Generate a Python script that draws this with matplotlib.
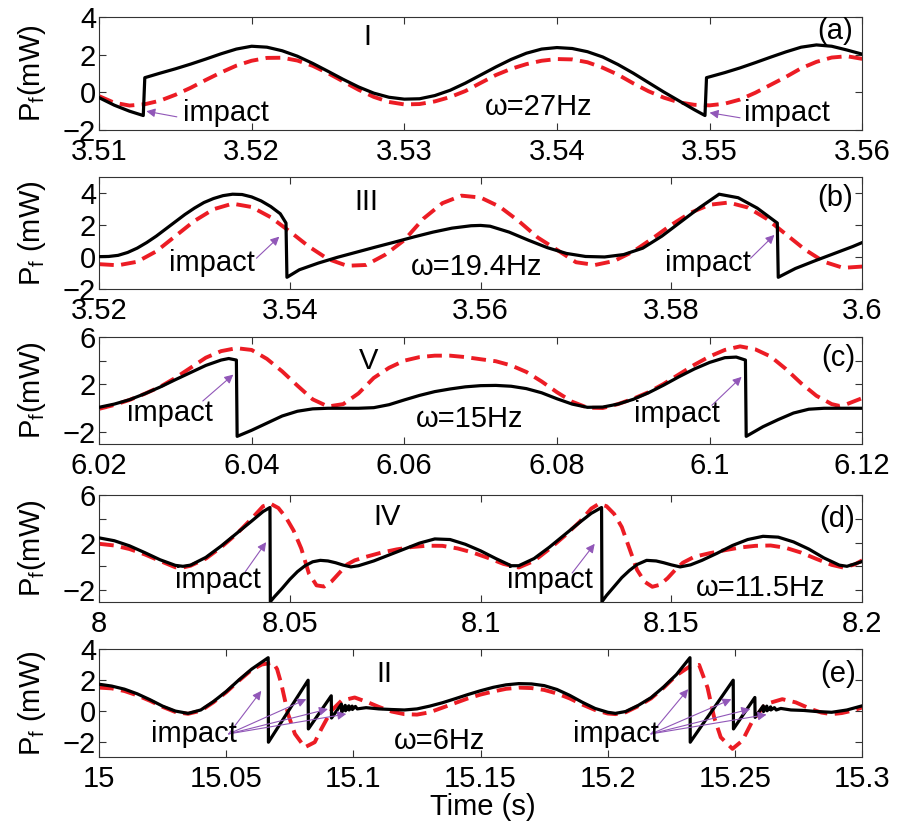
import numpy as np
import matplotlib.pyplot as plt

# ---- panel (a): omega = 27 Hz, regime I
t_a_black = [3.510, 3.511, 3.512, 3.5129, 3.5130, 3.514, 3.515, 3.516, 3.517, 3.518, 3.519, 3.520,
             3.521, 3.522, 3.523, 3.524, 3.525, 3.526, 3.527, 3.528, 3.529, 3.530, 3.531, 3.532,
             3.533, 3.534, 3.535, 3.536, 3.537, 3.538, 3.539, 3.540, 3.541, 3.542, 3.543, 3.544,
             3.545, 3.546, 3.547, 3.548, 3.549, 3.5497, 3.5498, 3.551, 3.552, 3.553, 3.554, 3.555,
             3.556, 3.557, 3.558, 3.559, 3.560]
p_a_black = [-0.28, -0.68, -1.00, -1.23, 0.78, 1.02, 1.25, 1.50, 1.77, 2.05, 2.30, 2.45,
             2.40, 2.21, 1.92, 1.54, 1.12, 0.69, 0.29, -0.04, -0.26, -0.36, -0.34, -0.17,
             0.11, 0.49, 0.92, 1.35, 1.75, 2.08, 2.30, 2.38, 2.33, 2.16, 1.88, 1.48,
             1.02, 0.52, 0.02, -0.45, -0.92, -1.23, 0.78, 1.05, 1.30, 1.58, 1.87, 2.15,
             2.40, 2.52, 2.45, 2.25, 2.03]
t_a_red = [3.510, 3.511, 3.512, 3.513, 3.514, 3.515, 3.516, 3.517, 3.518, 3.519, 3.520, 3.521,
           3.522, 3.523, 3.524, 3.525, 3.526, 3.527, 3.528, 3.529, 3.530, 3.531, 3.532, 3.533,
           3.534, 3.535, 3.536, 3.537, 3.538, 3.539, 3.540, 3.541, 3.542, 3.543, 3.544, 3.545,
           3.546, 3.547, 3.548, 3.549, 3.550, 3.551, 3.552, 3.553, 3.554, 3.555, 3.556, 3.557,
           3.558, 3.559, 3.560]
p_a_red = [-0.20, -0.55, -0.70, -0.63, -0.44, -0.13, 0.24, 0.66, 1.06, 1.42, 1.68, 1.83,
           1.84, 1.69, 1.41, 1.02, 0.58, 0.14, -0.24, -0.51, -0.64, -0.62, -0.48, -0.25,
           0.07, 0.50, 0.92, 1.25, 1.50, 1.68, 1.77, 1.75, 1.60, 1.31, 0.94, 0.48,
           0.06, -0.28, -0.53, -0.66, -0.69, -0.60, -0.38, -0.02, 0.40, 0.82, 1.28, 1.62,
           1.85, 1.92, 1.78]

# ---- panel (b): omega = 19.4 Hz, regime III
t_b_black = [3.520, 3.521, 3.522, 3.523, 3.524, 3.525, 3.526, 3.527, 3.528, 3.529, 3.530, 3.531,
             3.532, 3.533, 3.534, 3.535, 3.536, 3.537, 3.538, 3.539, 3.5396, 3.5397,
             3.541, 3.543, 3.545, 3.547, 3.549, 3.551, 3.553, 3.555, 3.557, 3.559, 3.560, 3.561, 3.563,
             3.565, 3.567, 3.569, 3.571, 3.573, 3.575, 3.577, 3.579, 3.581, 3.583, 3.585, 3.587,
             3.589, 3.5911, 3.5912, 3.593, 3.595, 3.597, 3.599, 3.600]
p_b_black = [0.02, 0.03, 0.10, 0.28, 0.55, 0.90, 1.30, 1.75, 2.20, 2.65, 3.05, 3.40,
             3.65, 3.83, 3.92, 3.90, 3.75, 3.50, 3.15, 2.70, 2.12, -1.27,
             -0.80, -0.38, -0.02, 0.30, 0.62, 0.93, 1.25, 1.55, 1.80, 1.95, 1.97, 1.92, 1.55,
             1.05, 0.58, 0.22, 0.03, 0.00, 0.15, 0.55, 1.30, 2.20, 3.10, 3.92, 3.70,
             3.05, 2.12, -1.27, -0.72, -0.25, 0.20, 0.65, 0.90]
t_b_red = [3.520, 3.522, 3.524, 3.526, 3.528, 3.530, 3.532, 3.534, 3.536, 3.538, 3.540, 3.542,
           3.544, 3.546, 3.548, 3.550, 3.552, 3.554, 3.556, 3.558, 3.560, 3.562, 3.564, 3.566,
           3.568, 3.570, 3.572, 3.574, 3.576, 3.578, 3.580, 3.582, 3.584, 3.586, 3.588, 3.590,
           3.592, 3.594, 3.596, 3.598, 3.600]
p_b_red = [-0.45, -0.52, -0.30, 0.35, 1.30, 2.25, 2.98, 3.33, 3.12, 2.48, 1.59, 0.65,
           -0.13, -0.55, -0.50, 0.14, 1.05, 2.39, 3.36, 3.83, 3.71, 3.14, 2.24, 1.21,
           0.45, -0.33, -0.50, -0.25, 0.34, 1.15, 2.01, 2.76, 3.26, 3.40, 3.09, 2.38,
           1.42, 0.46, -0.30, -0.68, -0.60]

# ---- panel (c): omega = 15 Hz, regime V
t_c_black = [6.020, 6.022, 6.024, 6.026, 6.028, 6.030, 6.032, 6.034, 6.036, 6.037, 6.038, 6.0381,
             6.040, 6.042, 6.044, 6.046, 6.048, 6.050, 6.052, 6.054, 6.056, 6.058, 6.060, 6.062,
             6.064, 6.066, 6.068, 6.070, 6.072, 6.074, 6.076, 6.078, 6.080, 6.082, 6.084, 6.086,
             6.088, 6.090, 6.092, 6.094, 6.096, 6.098, 6.100, 6.102, 6.1035, 6.1047, 6.1048, 6.107,
             6.109, 6.111, 6.113, 6.115, 6.120]
p_c_black = [0.08, 0.35, 0.72, 1.22, 1.78, 2.40, 3.00, 3.60, 4.05, 4.18, 4.05, -2.36,
             -1.85, -1.25, -0.65, -0.25, -0.05, 0.00, 0.00, 0.00, 0.05, 0.30, 0.70, 1.08,
             1.40, 1.62, 1.80, 1.90, 1.92, 1.85, 1.65, 1.30, 0.80, 0.35, 0.08, 0.10,
             0.35, 0.75, 1.30, 1.95, 2.65, 3.30, 3.85, 4.25, 4.30, 4.05, -2.36, -1.55,
             -0.95, -0.40, -0.08, 0.00, 0.00]
t_c_red = [6.020, 6.022, 6.024, 6.026, 6.028, 6.030, 6.032, 6.034, 6.036, 6.038, 6.040, 6.042,
           6.044, 6.046, 6.048, 6.050, 6.052, 6.054, 6.056, 6.058, 6.060, 6.062, 6.064, 6.066,
           6.068, 6.070, 6.072, 6.074, 6.076, 6.078, 6.080, 6.082, 6.084, 6.086, 6.088, 6.090,
           6.092, 6.094, 6.096, 6.098, 6.100, 6.102, 6.104, 6.106, 6.108, 6.110, 6.112, 6.114,
           6.116, 6.117, 6.118, 6.120]
p_c_red = [-0.05, 0.28, 0.70, 1.22, 1.80, 2.55, 3.40, 4.25, 4.80, 5.05, 4.90, 4.15,
           3.10, 1.90, 0.75, 0.15, 0.35, 1.25, 2.55, 3.40, 4.00, 4.30, 4.42, 4.42,
           4.30, 4.12, 3.95, 3.60, 3.05, 2.25, 1.35, 0.55, 0.05, 0.02, 0.35, 0.80,
           1.35, 2.05, 2.85, 3.65, 4.35, 4.90, 5.20, 4.95, 4.35, 3.30, 2.10, 1.05,
           0.35, 0.20, 0.35, 0.85]

# ---- panel (d): omega = 11.5 Hz, regime IV
t_d_black = [8.000, 8.004, 8.008, 8.012, 8.016, 8.020, 8.022, 8.024, 8.028, 8.032, 8.036, 8.040,
             8.043, 8.0448, 8.0449, 8.046, 8.048, 8.050, 8.052, 8.054, 8.056, 8.058, 8.060, 8.062,
             8.064, 8.066, 8.068, 8.072, 8.076, 8.080, 8.084, 8.088, 8.092, 8.096, 8.100, 8.104,
             8.108, 8.110, 8.114, 8.118, 8.122, 8.126, 8.129, 8.1317, 8.1318, 8.133, 8.135, 8.137,
             8.139, 8.141, 8.1435, 8.146, 8.148, 8.150, 8.1523, 8.155, 8.158, 8.162, 8.166, 8.170,
             8.174, 8.178, 8.182, 8.186, 8.190, 8.194, 8.196, 8.200]
p_d_black = [2.39, 2.15, 1.72, 1.15, 0.55, 0.08, 0.00, 0.10, 0.75, 1.70, 2.75, 3.80,
             4.60, 4.94, -2.97, -2.55, -1.85, -1.10, -0.45, 0.05, 0.38, 0.50, 0.45, 0.30,
             0.10, -0.05, 0.05, 0.45, 0.95, 1.45, 1.95, 2.30, 2.25, 1.85, 1.30, 0.65,
             0.05, 0.05, 0.65, 1.60, 2.65, 3.70, 4.45, 4.94, -2.97, -2.45, -1.70, -0.95,
             -0.35, 0.15, 0.50, 0.45, 0.30, 0.12, -0.05, 0.12, 0.50, 1.10, 1.75, 2.25,
             2.52, 2.45, 2.05, 1.45, 0.70, 0.10, 0.00, 0.40]
t_d_red = [8.000, 8.004, 8.008, 8.012, 8.016, 8.020, 8.022, 8.024, 8.028, 8.032, 8.036, 8.040,
           8.043, 8.045, 8.047, 8.049, 8.051, 8.053, 8.055, 8.057, 8.059, 8.061, 8.063, 8.065,
           8.067, 8.070, 8.074, 8.078, 8.082, 8.086, 8.090, 8.094, 8.098, 8.102, 8.106, 8.110,
           8.114, 8.118, 8.122, 8.126, 8.129, 8.131, 8.133, 8.135, 8.137, 8.139, 8.141, 8.143,
           8.145, 8.147, 8.149, 8.151, 8.153, 8.156, 8.160, 8.164, 8.168, 8.172, 8.176, 8.180,
           8.184, 8.188, 8.192, 8.195, 8.198, 8.200]
p_d_red = [1.89, 1.75, 1.45, 1.00, 0.45, -0.08, -0.10, 0.05, 0.65, 1.60, 2.70, 4.00,
           5.05, 5.25, 4.90, 4.10, 3.00, 1.50, -0.60, -1.60, -1.70, -1.25, -0.55, 0.15,
           0.50, 0.80, 1.15, 1.42, 1.62, 1.73, 1.72, 1.50, 1.15, 0.70, 0.20, -0.10,
           0.45, 1.45, 2.55, 3.75, 4.85, 5.25, 5.05, 4.40, 3.30, 1.50, -0.30, -1.30,
           -1.72, -1.55, -1.00, -0.30, 0.30, 0.80, 1.10, 1.35, 1.58, 1.72, 1.75, 1.55,
           1.15, 0.62, 0.12, -0.10, 0.15, 0.50]

# ---- panel (e): omega = 6 Hz, regime II
t_e_black = [15.000, 15.005, 15.010, 15.015, 15.020, 15.025, 15.030, 15.035, 15.040, 15.045, 15.050, 15.055,
             15.060, 15.0665, 15.0666, 15.0822, 15.0823, 15.0913, 15.0914, 15.0953, 15.0954, 15.0968, 15.0969, 15.0982,
             15.0983, 15.0995, 15.0996, 15.1008, 15.1015, 15.105, 15.110, 15.115, 15.120, 15.125, 15.130, 15.135,
             15.140, 15.145, 15.150, 15.155, 15.160, 15.165, 15.170, 15.175, 15.180, 15.185, 15.190, 15.195,
             15.200, 15.203, 15.207, 15.212, 15.217, 15.222, 15.227, 15.2323, 15.2324, 15.2493, 15.2494, 15.2578,
             15.2579, 15.2611, 15.2612, 15.2625, 15.2626, 15.2640, 15.2641, 15.2655, 15.2662, 15.268, 15.272, 15.277,
             15.282, 15.288, 15.294, 15.300]
p_e_black = [1.72, 1.60, 1.40, 1.10, 0.72, 0.30, -0.02, -0.17, 0.05, 0.60, 1.25, 2.00,
             2.70, 3.44, -2.04, 1.98, -1.18, 0.97, -0.47, 0.43, -0.11, 0.35, 0.00, 0.32,
             0.05, 0.30, 0.08, 0.28, 0.12, 0.20, 0.12, 0.08, 0.05, 0.12, 0.30, 0.52,
             0.78, 1.05, 1.30, 1.52, 1.68, 1.76, 1.74, 1.63, 1.38, 1.00, 0.55, 0.15,
             -0.10, -0.17, -0.05, 0.35, 0.85, 1.55, 2.35, 3.44, -2.04, 1.98, -1.18, 0.86,
             -0.43, 0.32, -0.05, 0.30, 0.00, 0.25, 0.05, 0.20, 0.05, 0.15, 0.05, 0.02,
             -0.05, -0.10, 0.05, 0.32]
t_e_red = [15.000, 15.005, 15.010, 15.015, 15.020, 15.025, 15.030, 15.035, 15.040, 15.045, 15.050, 15.055,
           15.060, 15.064, 15.0684, 15.070, 15.0717, 15.0743, 15.077, 15.0809, 15.0848, 15.0874, 15.0913, 15.0953,
           15.1005, 15.1058, 15.110, 15.115, 15.120, 15.125, 15.130, 15.135, 15.140, 15.145, 15.150, 15.155,
           15.160, 15.165, 15.170, 15.175, 15.180, 15.185, 15.190, 15.195, 15.200, 15.203, 15.207, 15.212,
           15.217, 15.222, 15.227, 15.232, 15.2359, 15.2392, 15.2418, 15.2444, 15.249, 15.2529, 15.2569, 15.262,
           15.2686, 15.2739, 15.280, 15.284, 15.288, 15.292, 15.296, 15.300]
p_e_red = [1.50, 1.45, 1.28, 1.00, 0.65, 0.25, -0.08, -0.20, 0.00, 0.55, 1.20, 1.95,
           2.65, 3.00, 3.12, 2.70, 1.72, -0.21, -1.50, -2.37, -2.04, -1.18, 0.00, 0.65,
           0.86, 0.54, 0.25, -0.05, -0.22, -0.25, -0.10, 0.20, 0.50, 0.80, 1.05, 1.25,
           1.42, 1.50, 1.47, 1.35, 1.12, 0.80, 0.40, 0.05, -0.18, -0.22, -0.10, 0.30,
           0.80, 1.50, 2.30, 2.85, 2.97, 1.50, -0.43, -1.72, -2.47, -1.94, -0.65, 0.43,
           0.75, 0.54, 0.10, -0.12, -0.22, -0.15, 0.00, 0.21]

# annotations: (text centre), arrow tail, arrow heads
impact_a = [((3.5183, -1.07), (3.5151, -1.30), [(3.5131, -1.00)]),
            ((3.5551, -1.07), (3.5520, -1.35), [(3.5500, -1.08)])]
impact_b = [((3.5318, -0.40), (3.5365, -0.08), [(3.5389, 1.27)]),
            ((3.5838, -0.40), (3.5883, -0.08), [(3.5908, 1.38)])]
impact_c = [((6.0293, -0.36), (6.0336, 0.61), [(6.0376, 2.83)]),
            ((6.0957, -0.50), (6.1003, 0.25), [(6.1042, 2.64)])]
impact_d = [((8.0311, -1.17), (8.0383, -0.47), [(8.0438, 2.03)]),
            ((8.1182, -1.17), (8.1240, -0.56), [(8.1299, 1.89)])]
impact_e = [((15.0374, -1.50), (15.0510, -1.50),
             [(15.0638, 1.29), (15.0815, 0.75), (15.0900, 0.11), (15.0972, -0.21)]),
            ((15.2033, -1.50), (15.2170, -1.50),
             [(15.2316, 1.40), (15.2486, 0.75), (15.2560, 0.11), (15.2624, -0.25)])]

plt.rcParams['font.family'] = ['Liberation Sans', 'DejaVu Sans']
plt.rcParams['mathtext.fontset'] = 'custom'
plt.rcParams['mathtext.rm'] = 'Liberation Sans'
plt.rcParams['mathtext.it'] = 'Liberation Sans:italic'

FS = 21
RED = '#ec1c24'
PURPLE = '#9157b8'
AXC = '#333333'

fig = plt.figure(figsize=(9, 8.24), dpi=100)

panels = [
    dict(pos=[0.110, 0.8422, 0.848, 0.1371], tb=t_a_black, pb=p_a_black, tr=t_a_red, pr=p_a_red,
         xlim=(3.51, 3.56), ylim=(-2, 4), xt=[3.51, 3.52, 3.53, 3.54, 3.55, 3.56],
         yt=[-2, 0, 2, 4], ytl=['\u22122', '0', '2', '4'], ylab='P$_\\mathrm{f}$(mW)',
         imp=impact_a, roman=('I', 3.5276, 2.93), om=('\u03c9=27Hz', 3.5388, -0.80),
         tag=('(a)', 3.5582, 3.27)),
    dict(pos=[0.110, 0.6493, 0.848, 0.1360], tb=t_b_black, pb=p_b_black, tr=t_b_red, pr=p_b_red,
         xlim=(3.52, 3.60), ylim=(-2, 5), xt=[3.52, 3.54, 3.56, 3.58, 3.60],
         yt=[-2, 0, 2, 4], ytl=['\u22122', '0', '2', '4'], ylab='P$_\\mathrm{f}$ (mW)',
         imp=impact_b, roman=('III', 3.548, 3.46), om=('\u03c9=19.4Hz', 3.5596, -0.60),
         tag=('(b)', 3.5972, 3.67)),
    dict(pos=[0.110, 0.4612, 0.848, 0.1300], tb=t_c_black, pb=p_c_black, tr=t_c_red, pr=p_c_red,
         xlim=(6.02, 6.12), ylim=(-3, 6), xt=[6.02, 6.04, 6.06, 6.08, 6.10, 6.12],
         yt=[-2, 0, 2, 4, 6], ytl=['\u22122', '', '2', '', '6'], ylab='P$_\\mathrm{f}$(mW)',
         imp=impact_c, roman=('V', 6.0553, 3.94), om=('\u03c9=15Hz', 6.0686, -0.92),
         tag=('(c)', 6.1169, 4.22)),
    dict(pos=[0.110, 0.2694, 0.848, 0.1300], tb=t_d_black, pb=p_d_black, tr=t_d_red, pr=p_d_red,
         xlim=(8.0, 8.2), ylim=(-3, 6), xt=[8.0, 8.05, 8.1, 8.15, 8.2],
         yt=[-2, 0, 2, 4, 6], ytl=['\u22122', '', '2', '', '6'], ylab='P$_\\mathrm{f}$(mW)',
         imp=impact_d, roman=('IV', 8.0754, 4.11), om=('\u03c9=11.5Hz', 8.1735, -1.86),
         tag=('(d)', 8.1934, 3.97)),
    dict(pos=[0.110, 0.0813, 0.848, 0.1310], tb=t_e_black, pb=p_e_black, tr=t_e_red, pr=p_e_red,
         xlim=(15.0, 15.3), ylim=(-3, 4), xt=[15.0, 15.05, 15.1, 15.15, 15.2, 15.25, 15.3],
         yt=[-2, 0, 2, 4], ytl=['\u22122', '0', '2', '4'], ylab='P$_\\mathrm{f}$ (mW)',
         imp=impact_e, roman=('II', 15.1123, 2.37), om=('\u03c9=6Hz', 15.1337, -1.94),
         tag=('(e)', 15.2906, 2.37)),
]

for p in panels:
    ax = fig.add_axes(p['pos'])
    ax.plot(p['tr'], p['pr'], color=RED, lw=2.8, dashes=(3.8, 1.9), zorder=2)
    ax.plot(p['tb'], p['pb'], color='black', lw=2.3, zorder=3)
    ax.set_xlim(*p['xlim'])
    ax.set_ylim(*p['ylim'])
    ax.set_xticks(p['xt'])
    ax.set_xticklabels(['%g' % round(v, 3) for v in p['xt']])
    ax.set_yticks(p['yt'])
    ax.set_yticklabels(p['ytl'])
    ax.tick_params(direction='in', top=True, right=True, length=5, width=0.8,
                   color=AXC, labelsize=FS)
    ax.tick_params(axis='x', pad=6)
    ax.tick_params(axis='y', pad=2)
    for s in ax.spines.values():
        s.set_color(AXC)
        s.set_linewidth(0.8)
    for (txy, tail, heads) in p['imp']:
        ax.text(txy[0], txy[1], 'impact', fontsize=FS, ha='center', va='center', zorder=5)
        for h in heads:
            ax.annotate('', xy=h, xytext=tail,
                        arrowprops=dict(arrowstyle='-|>', color=PURPLE, lw=0.8,
                                        mutation_scale=13, shrinkA=0, shrinkB=0), zorder=4)
    r = p['roman']
    ax.text(r[1], r[2], r[0], fontsize=FS, ha='center', va='center')
    o = p['om']
    ax.text(o[1], o[2], o[0], fontsize=FS, ha='center', va='center')
    g = p['tag']
    ax.text(g[1], g[2], g[0], fontsize=FS, ha='center', va='center')
    yc = p['pos'][1] + p['pos'][3] / 2
    fig.text(0.036, yc, p['ylab'], fontsize=FS, rotation=90, ha='center', va='center')

fig.text(0.536, 0.021, 'Time (s)', fontsize=FS, ha='center', va='center')

fig.savefig('out.png', dpi=100)
